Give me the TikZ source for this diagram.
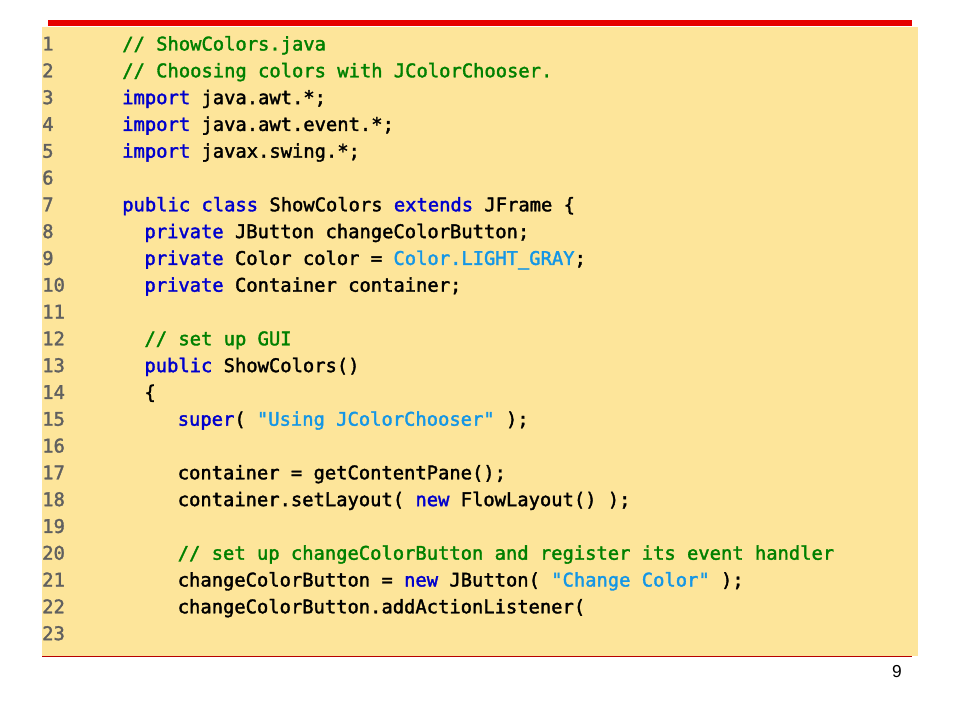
\documentclass[tikz,border=0pt]{standalone}
\usepackage{fontspec}
\newfontfamily\codefont{DejaVu Sans Mono}[FakeBold=1.8]
\setmainfont{Liberation Sans}
\definecolor{bgy}{RGB}{253,229,154}
\definecolor{kwc}{RGB}{0,0,205}
\definecolor{cmc}{RGB}{0,128,0}
\definecolor{stc}{RGB}{20,150,230}
\definecolor{lnc}{RGB}{96,96,96}
\definecolor{redc}{RGB}{230,0,0}
\newcommand{\kw}[1]{\textcolor{kwc}{#1}}
\newcommand{\cm}[1]{\textcolor{cmc}{#1}}
\newcommand{\st}[1]{\textcolor{stc}{#1}}
\tikzset{code/.style={anchor=base west,inner sep=0pt,font=\codefont\fontsize{14.1}{16}\selectfont,text=black},
lnum/.style={code,text=lnc}}
\begin{document}
\begin{tikzpicture}[x=0.75pt,y=-0.75pt]
\useasboundingbox (0,0) rectangle (960,720);
\fill[white] (0,0) rectangle (960,720);
\fill[bgy] (42,27) rectangle (918,656);
\fill[redc] (48,20) rectangle (912,26);
\draw[redc!80!black,line width=1pt] (42,656.5) -- (912,656.5);
\node[anchor=base,inner sep=0pt,font=\fontsize{13}{15}\selectfont] (pg) at (897,677) {9};
\foreach \i in {1,...,23} {
  \node[lnum] (n\i) at (42,{50.5+26.8*(\i-1)}) {\i};
}
\def\L#1#2#3{\node[code] (c#1) at ({122+11.1*#2},{50.5+26.8*(#1-1)}) {#3};}
\L{1}{0}{\cm{// ShowColors.java}}
\L{2}{0}{\cm{// Choosing colors with JColorChooser.}}
\L{3}{0}{\kw{import} java.awt.*;}
\L{4}{0}{\kw{import} java.awt.event.*;}
\L{5}{0}{\kw{import} javax.swing.*;}
\L{7}{0}{\kw{public class} ShowColors \kw{extends} JFrame \{}
\L{8}{2}{\kw{private} JButton changeColorButton;}
\L{9}{2}{\kw{private} Color color = \st{Color.LIGHT\_GRAY};}
\L{10}{2}{\kw{private} Container container;}
\L{12}{2}{\cm{// set up GUI}}
\L{13}{2}{\kw{public} ShowColors()}
\L{14}{2}{\{}
\L{15}{5}{\kw{super}( \st{"Using JColorChooser"} );}
\L{17}{5}{container = getContentPane();}
\L{18}{5}{container.setLayout( \kw{new} FlowLayout() );}
\L{20}{5}{\cm{// set up changeColorButton and register its event handler}}
\L{21}{5}{changeColorButton = \kw{new} JButton( \st{"Change Color"} );}
\L{22}{5}{changeColorButton.addActionListener(}
\end{tikzpicture}
\end{document}
